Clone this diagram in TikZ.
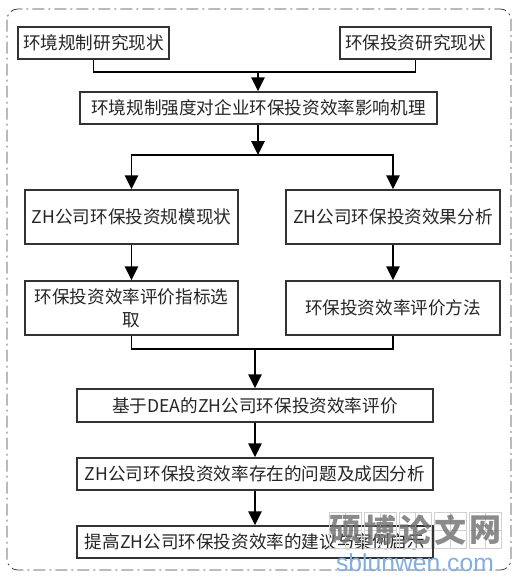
\documentclass[tikz,border=0pt]{standalone}
\usepackage{fontspec}
\setmainfont{Liberation Serif}
\newfontfamily\cjk{Noto Sans CJK SC}
\usetikzlibrary{arrows.meta,calc}
\definecolor{wm}{RGB}{110,110,110}
\definecolor{wmblue}{RGB}{130,175,225}
\tikzset{
  x=0.75pt,y=-0.75pt,
  box/.style={draw=black!80,line width=1.1pt,fill=white,inner sep=0pt,align=center,font=\cjk\fontsize{13.2}{17.5}\selectfont,text=black!85},
  link/.style={draw=black,line width=1.3pt},
  arr/.style={link,-{Triangle[length=10.5pt,width=10pt]}},
  frame/.style={draw=black!75,line width=0.6pt,dash pattern=on 9pt off 3pt on 1.5pt off 3pt,rounded corners=8pt},
  wmtext/.style={text=wm,font=\cjk\bfseries\fontsize{24}{26}\selectfont,inner sep=0pt,opacity=.8},
  wmcell/.style={draw=black!18,line width=.5pt},
}
\newcommand{\bx}[6]{\node[box,minimum width=#4*0.75pt-#2*0.75pt,minimum height=#5*0.75pt-#3*0.75pt] (#1) at ({(#2+#4)/2},{(#3+#5)/2}) {#6};}
\begin{document}
\begin{tikzpicture}
\useasboundingbox (0,0) rectangle (518,583);
\fill[white] (0,0) rectangle (518,583);
\draw[frame] (7,9) rectangle (511,570);
\bx{a}{18}{27}{169}{59}{环境规制研究现状}
\bx{b}{340}{27}{491}{59}{环保投资研究现状}
\bx{c}{80}{92}{437}{124}{环境规制强度对企业环保投资效率影响机理}
\bx{d}{25}{190}{238}{244}{ZH公司环保投资规模现状}
\bx{e}{286}{190}{500}{244}{ZH公司环保投资效果分析}
\bx{f}{25}{281}{238}{335}{环保投资效率评价指标选\\取}
\bx{g}{286}{281}{500}{335}{环保投资效率评价方法}
\bx{h}{77}{389}{433}{422}{基于DEA的ZH公司环保投资效率评价}
\bx{i}{77}{458}{433}{490}{ZH公司环保投资效率存在的问题及成因分析}
\bx{j}{77}{526}{433}{558}{提高ZH公司环保投资效率的建议与案例启示}
\coordinate (top) at (258,72);
\coordinate (split) at (258,155);
\coordinate (merge) at (255,349);
\draw[link] (a.south) |- (top) -| (b.south);
\draw[arr] (top) -- (c.north-|top);
\draw[arr] (c.south-|split) -- (split);
\draw[arr] (split) -| (d.north);
\draw[arr] (split) -| (e.north);
\draw[arr] (d) -- (f);
\draw[arr] (e) -- (g);
\draw[link] (f.south) |- (merge) -| (g.south);
\draw[arr] (merge) -- (h.north-|merge);
\draw[arr] (h.south-|merge) -- (i.north-|merge);
\draw[arr] (i.south-|merge) -- (j.north-|merge);
\foreach \i/\c [count=\n from 0] in {1/硕,2/博,3/论,4/文,5/网}{
  \draw[wmcell] ({329+\n*35},512) rectangle ++(32,36);
  \draw[wmcell] ({345+\n*35},512) -- ++(0,36);
  \draw[wmcell] ({329+\n*35},530) -- ++(32,0);
  \node[wmtext] (w\i) at ({345+\n*35},530) {\c};
}
\node[text=wmblue,font=\fontspec{Liberation Sans}\fontsize{18.5}{20}\selectfont,inner sep=0pt] (url) at (415,563) {sblunwen.com};
\end{tikzpicture}
\end{document}
